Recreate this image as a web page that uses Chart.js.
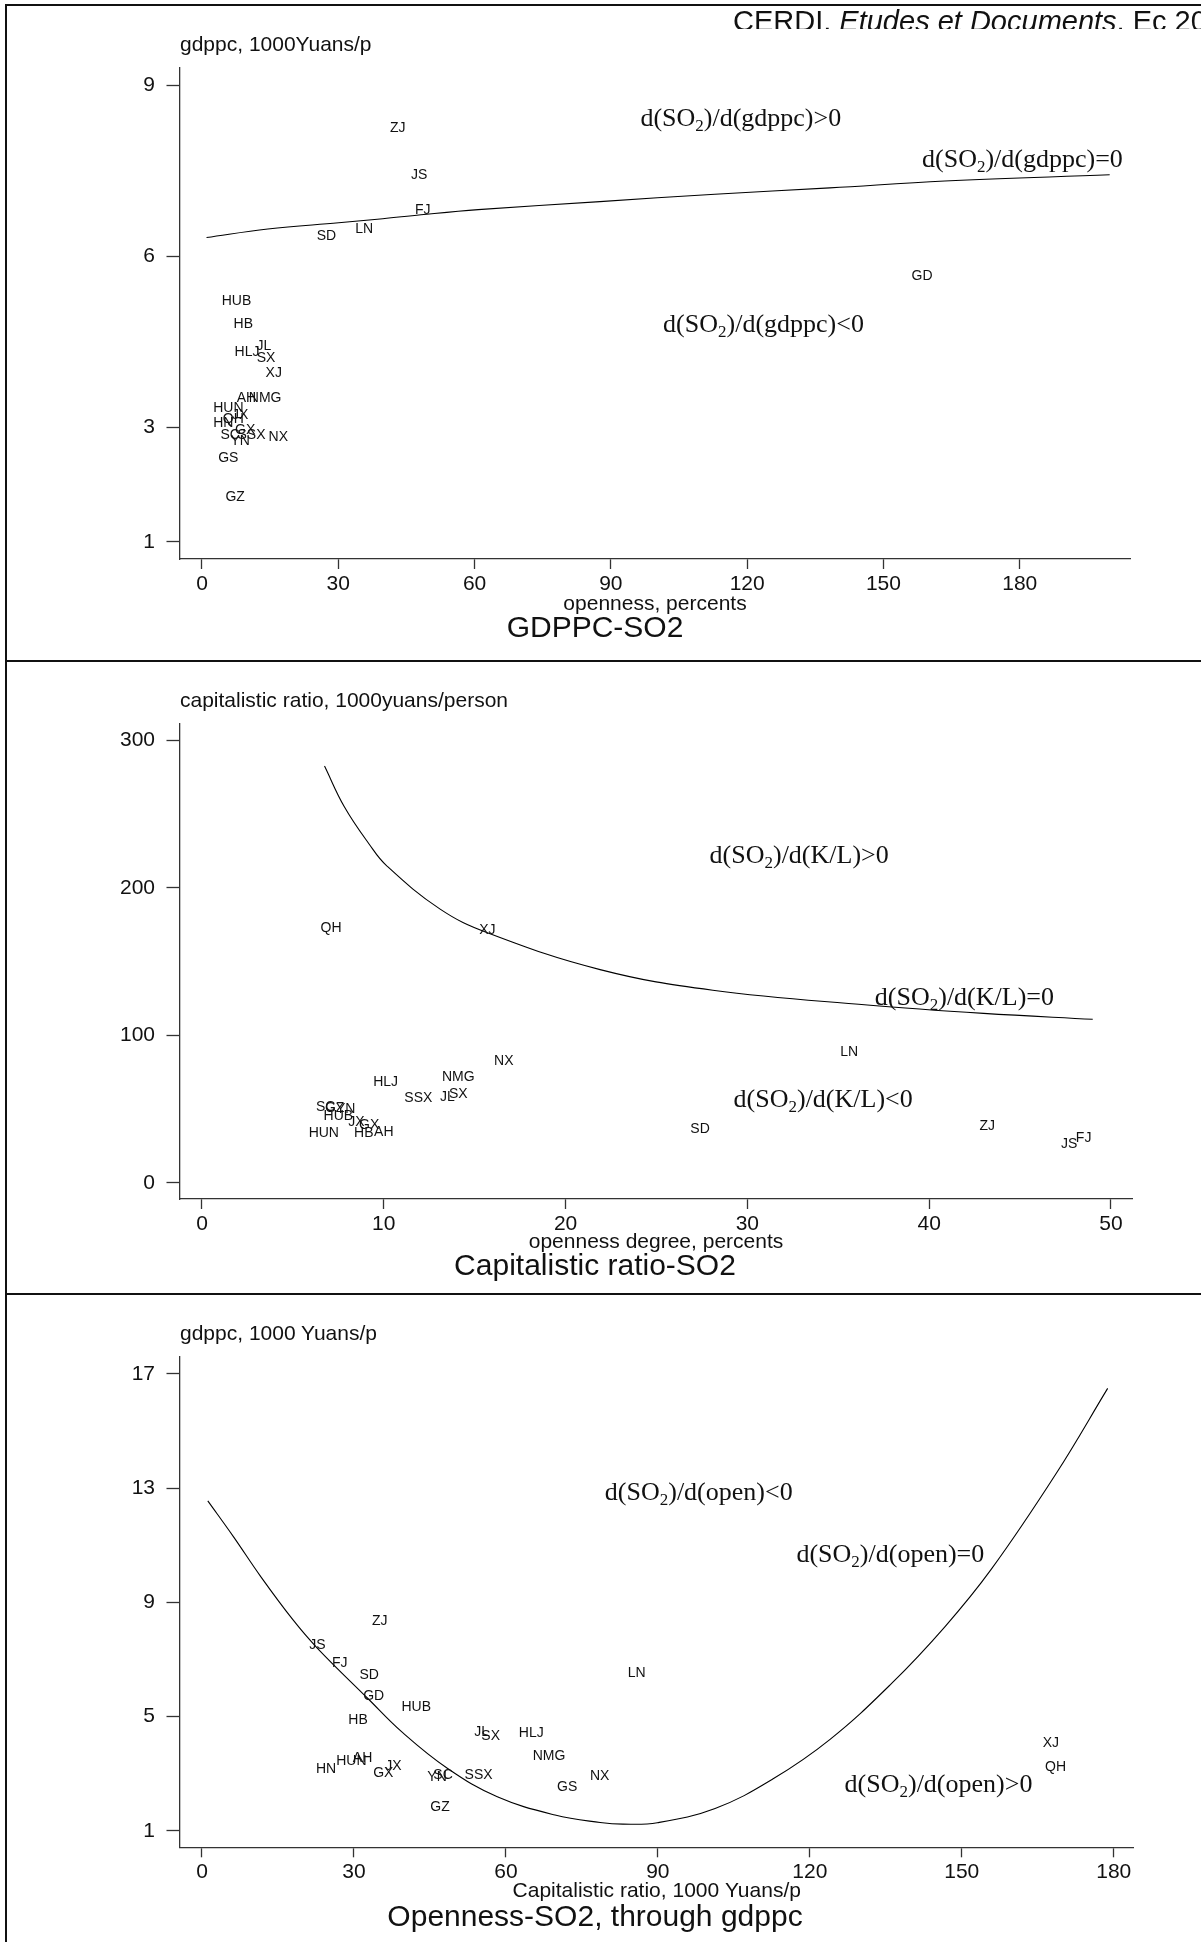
<!DOCTYPE html>
<html>
<head>
<meta charset="utf-8">
<script src="https://cdn.jsdelivr.net/npm/chart.js@4.4.1/dist/chart.umd.min.js"></script>
<style>
  html, body { margin: 0; padding: 0; background: #fff; }
  body { position: relative; width: 1201px; height: 1942px; overflow: hidden; font-family: "Liberation Sans", Arial, sans-serif; color: #111; }
  canvas { position: absolute; left: 0; }
  .rule { position: absolute; background: #111; z-index: 2; }
  .ytitle { position: absolute; left: 180px; font-size: 21px; line-height: 21px; transform: translateY(-50%); white-space: nowrap; }
  .caption { position: absolute; left: 595px; font-size: 30px; line-height: 30px; transform: translate(-50%, -50%); white-space: nowrap; }
  #header { position: absolute; left: 0; top: 0; width: 1201px; height: 29px; overflow: hidden; z-index: 3; }
  #header span { position: absolute; left: 733px; top: 7px; font-size: 29px; line-height: 29px; white-space: nowrap; }
</style>
</head>
<body>
<div id="header"><span>CERDI, <i>Etudes et Documents</i>, Ec 20</span></div>

<div class="rule" style="left:5px; top:4px; width:1196px; height:2px;"></div>
<div class="rule" style="left:5px; top:4px; width:2px; height:1938px;"></div>
<div class="rule" style="left:5px; top:660px; width:1196px; height:2px;"></div>
<div class="rule" style="left:5px; top:1293px; width:1196px; height:2px;"></div>

<canvas id="c1" width="1201" height="660" style="top:0px"></canvas>
<canvas id="c2" width="1201" height="630" style="top:662px"></canvas>
<canvas id="c3" width="1201" height="647" style="top:1295px"></canvas>

<div class="ytitle" style="top:43px">gdppc, 1000Yuans/p</div>
<div class="ytitle" style="top:699px">capitalistic ratio, 1000yuans/person</div>
<div class="ytitle" style="top:1332px">gdppc, 1000 Yuans/p</div>

<div class="caption" style="top:627px">GDPPC-SO2</div>
<div class="caption" style="top:1265px">Capitalistic ratio-SO2</div>
<div class="caption" style="top:1916px">Openness-SO2, through gdppc</div>

<script>
// --- panel 1 : gdppc against openness ---
const p1Codes = ['ZJ', 'JS', 'FJ', 'SD', 'LN', 'GD', 'HUB', 'HB', 'HLJ', 'JL', 'SX', 'XJ', 'AH', 'NMG', 'HUN', 'JX', 'QH', 'HN', 'GX', 'SC', 'SSX', 'NX', 'YN', 'GS', 'GZ'];
const p1Open  = [43.1, 47.8, 48.6, 27.4, 35.7, 158.5, 7.6, 9.1, 9.9, 13.6, 14.1, 15.8, 9.8, 13.9, 5.8, 8.4, 6.9, 4.7, 9.5, 6.2, 10.9, 16.8, 8.4, 5.8, 7.3];
const p1Gdppc = [8.25, 7.42, 6.81, 6.35, 6.47, 5.65, 5.22, 4.81, 4.33, 4.43, 4.22, 3.95, 3.52, 3.52, 3.34, 3.22, 3.15, 3.08, 2.96, 2.87, 2.87, 2.83, 2.77, 2.46, 1.78];
const p1CurveX = [1.0, 14.5, 30.1, 39.8, 48.2, 60.8, 87.6, 112.9, 138.2, 163.5, 199.8];
const p1CurveY = [6.33, 6.48, 6.59, 6.66, 6.73, 6.82, 6.96, 7.09, 7.20, 7.32, 7.43];
const p1TicksX = [0, 30, 60, 90, 120, 150, 180];
const p1TicksY = [1, 3, 6, 9];
const p1Notes = [
  { text: 'd(SO|2|)/d(gdppc)>0', x: 118.6, y: 8.43 },
  { text: 'd(SO|2|)/d(gdppc)=0', x: 180.6, y: 7.70 },
  { text: 'd(SO|2|)/d(gdppc)<0', x: 123.6, y: 4.81 }
];

// --- panel 2 : capitalistic ratio against openness ---
const p2Codes = ['QH', 'XJ', 'NX', 'NMG', 'HLJ', 'SSX', 'JL', 'SX', 'SC', 'GZ', 'YN', 'HUB', 'JX', 'GX', 'HB', 'AH', 'HUN', 'LN', 'SD', 'ZJ', 'JS', 'FJ'];
const p2Open = [7.1, 15.7, 16.6, 14.1, 10.1, 11.9, 13.5, 14.1, 6.8, 7.3, 7.9, 7.5, 8.5, 9.2, 8.9, 10.0, 6.7, 35.6, 27.4, 43.2, 47.7, 48.5];
const p2Kl   = [172.5, 171.3, 82.5, 71.9, 68.1, 57.6, 58.3, 59.9, 51.1, 50.4, 49.8, 45.2, 40.9, 39.1, 33.5, 34.6, 33.5, 88.8, 36.2, 38.4, 26.2, 30.1];
const p2CurveX = [6.74, 7.83, 9.2, 10.15, 13.1, 15.7, 21.9, 28.1, 36.6, 43.0, 49.0];
const p2CurveY = [282.5, 254.9, 229.5, 215.0, 185.5, 169.5, 144.5, 130.5, 120.5, 114.8, 110.8];
const p2TicksX = [0, 10, 20, 30, 40, 50];
const p2TicksY = [0, 100, 200, 300];
const p2Notes = [
  { text: 'd(SO|2|)/d(K/L)>0', x: 32.85, y: 222.2 },
  { text: 'd(SO|2|)/d(K/L)=0', x: 41.94, y: 126.2 },
  { text: 'd(SO|2|)/d(K/L)<0', x: 34.17, y: 56.5 }
];

// --- panel 3 : gdppc against capitalistic ratio ---
const p3Codes = ['ZJ', 'JS', 'FJ', 'SD', 'GD', 'HUB', 'HB', 'JL', 'SX', 'HLJ', 'NMG', 'AH', 'HUN', 'HN', 'GX', 'JX', 'YN', 'SC', 'SSX', 'GS', 'GZ', 'NX', 'LN', 'XJ', 'QH'];
const p3Kl    = [35.1, 22.8, 27.2, 33.0, 33.9, 42.3, 30.8, 55.2, 57.0, 65.0, 68.5, 31.7, 29.5, 24.5, 35.8, 37.8, 46.4, 47.6, 54.6, 72.1, 47.0, 78.5, 85.8, 167.6, 168.5];
const p3Gdppc = [8.35, 7.50, 6.88, 6.45, 5.72, 5.32, 4.88, 4.47, 4.32, 4.41, 3.61, 3.53, 3.42, 3.15, 3.03, 3.26, 2.87, 2.95, 2.95, 2.54, 1.82, 2.91, 6.53, 4.06, 3.22];
const p3CurveX = [1.15, 6.2, 11.6, 17.9, 22.8, 32.7, 39.4, 48.5, 58.3, 69.7, 78.6, 83.1, 89.9, 101.3, 112.6, 124.0, 136.1, 146.7, 155.8, 168.6, 178.8];
const p3CurveY = [12.55, 11.30, 9.90, 8.40, 7.39, 5.64, 4.47, 3.18, 2.19, 1.55, 1.29, 1.23, 1.28, 1.78, 2.80, 4.20, 6.15, 8.15, 10.15, 13.50, 16.49];
const p3TicksX = [0, 30, 60, 90, 120, 150, 180];
const p3TicksY = [1, 5, 9, 13, 17];
const p3Notes = [
  { text: 'd(SO|2|)/d(open)<0', x: 98.07, y: 12.85 },
  { text: 'd(SO|2|)/d(open)=0', x: 135.9, y: 10.68 },
  { text: 'd(SO|2|)/d(open)>0', x: 145.4, y: 2.63 }
];

const SANS = '"Liberation Sans", Arial, sans-serif';
const SERIF = '"Liberation Serif", "Times New Roman", serif';
const INK = '#111';
const AXIS = '#333';

// province codes written where the points are
const codeLabels = {
  id: 'codeLabels',
  afterDatasetsDraw(chart, args, opts) {
    const ctx = chart.ctx;
    const meta = chart.getDatasetMeta(0);
    ctx.save();
    ctx.font = '14px ' + SANS;
    ctx.fillStyle = INK;
    ctx.textAlign = 'center';
    ctx.textBaseline = 'middle';
    meta.data.forEach((pt, i) => ctx.fillText(opts.codes[i], pt.x, pt.y));
    ctx.restore();
  }
};

// region notes, "d(SO|2|)/..." -> subscript 2
const regionNotes = {
  id: 'regionNotes',
  afterDatasetsDraw(chart, args, opts) {
    const ctx = chart.ctx;
    const xs = chart.scales.x, ys = chart.scales.y;
    ctx.save();
    ctx.fillStyle = INK;
    ctx.textAlign = 'left';
    ctx.textBaseline = 'alphabetic';
    opts.items.forEach(n => {
      const [a, sub, b] = n.text.split('|');
      ctx.font = '26px ' + SERIF;
      const wa = ctx.measureText(a).width, wb = ctx.measureText(b).width;
      ctx.font = '17px ' + SERIF;
      const ws = ctx.measureText(sub).width;
      let x = xs.getPixelForValue(n.x) - (wa + ws + wb) / 2;
      const base = ys.getPixelForValue(n.y) + 8;
      ctx.font = '26px ' + SERIF;
      ctx.fillText(a, x, base); x += wa;
      ctx.font = '17px ' + SERIF;
      ctx.fillText(sub, x, base + 5); x += ws;
      ctx.font = '26px ' + SERIF;
      ctx.fillText(b, x, base);
    });
    ctx.restore();
  }
};

function axis(min, max, ticks, size, isX, tickLen, pad, title) {
  const cfg = {
    type: 'linear',
    position: isX ? 'bottom' : 'left',
    min: min,
    max: max,
    bounds: 'data',
    afterBuildTicks: s => { s.ticks = ticks.map(v => ({ value: v })); },
    afterFit: s => { if (isX) s.height = size; else s.width = size; },
    ticks: { autoSkip: false, maxRotation: 0, padding: pad, color: INK, font: { family: SANS, size: 21 } },
    grid: { drawOnChartArea: false, drawTicks: true, tickLength: tickLen, color: AXIS, tickWidth: 1.3 },
    border: { display: true, color: AXIS, width: 1.3 }
  };
  if (title) {
    cfg.title = { display: true, text: title, color: INK, padding: 0, font: { family: SANS, size: 21, lineHeight: 1.2 } };
  }
  return cfg;
}

function drawPanel(id, p) {
  const canvas = document.getElementById(id);
  const H = canvas.height;
  const yW = 60;
  new Chart(canvas.getContext('2d'), {
    type: 'scatter',
    data: {
      datasets: [
        {
          data: p.xs.map((x, i) => ({ x: x, y: p.ys[i] })),
          pointRadius: 0,
          pointHoverRadius: 0,
          showLine: false
        },
        {
          data: p.cx.map((x, i) => ({ x: x, y: p.cy[i] })),
          showLine: true,
          borderColor: '#000',
          borderWidth: 1.1,
          pointRadius: 0,
          fill: false,
          tension: 0.4
        }
      ]
    },
    options: {
      responsive: false,
      animation: false,
      devicePixelRatio: 1,
      layout: {
        padding: {
          left: p.area.left - yW,
          right: 1201 - p.area.right,
          top: p.area.top - p.canvasTop,
          bottom: H - (p.area.bottom - p.canvasTop) - p.xH
        }
      },
      scales: {
        x: axis(p.xmin, p.xmax, p.ticksX, p.xH, true, 10, 2.5, p.xTitle),
        y: axis(p.ymin, p.ymax, p.ticksY, yW, false, 13.5, 11.5, null)
      },
      plugins: {
        legend: { display: false },
        tooltip: { enabled: false },
        codeLabels: { codes: p.codes },
        regionNotes: { items: p.notes }
      }
    },
    plugins: [codeLabels, regionNotes]
  });
}

drawPanel('c1', {
  canvasTop: 0,
  area: { left: 180, right: 1130, top: 68, bottom: 559 },
  xH: 57.5,
  xmin: -4.84, xmax: 204.27, ymin: 0.70, ymax: 9.30,
  ticksX: p1TicksX, ticksY: p1TicksY,
  xs: p1Open, ys: p1Gdppc, codes: p1Codes,
  cx: p1CurveX, cy: p1CurveY, notes: p1Notes,
  xTitle: 'openness, percents'
});

drawPanel('c2', {
  canvasTop: 662,
  area: { left: 180, right: 1132, top: 723.3, bottom: 1199 },
  xH: 56,
  xmin: -1.21, xmax: 51.16, ymin: -11.05, ymax: 311.5,
  ticksX: p2TicksX, ticksY: p2TicksY,
  xs: p2Open, ys: p2Kl, codes: p2Codes,
  cx: p2CurveX, cy: p2CurveY, notes: p2Notes,
  xTitle: 'openness degree, percents'
});

drawPanel('c3', {
  canvasTop: 1295,
  area: { left: 180, right: 1133.5, top: 1356.7, bottom: 1847.3 },
  xH: 56.8,
  xmin: -4.34, xmax: 183.9, ymin: 0.42, ymax: 17.60,
  ticksX: p3TicksX, ticksY: p3TicksY,
  xs: p3Kl, ys: p3Gdppc, codes: p3Codes,
  cx: p3CurveX, cy: p3CurveY, notes: p3Notes,
  xTitle: 'Capitalistic ratio, 1000 Yuans/p'
});
</script>
</body>
</html>
